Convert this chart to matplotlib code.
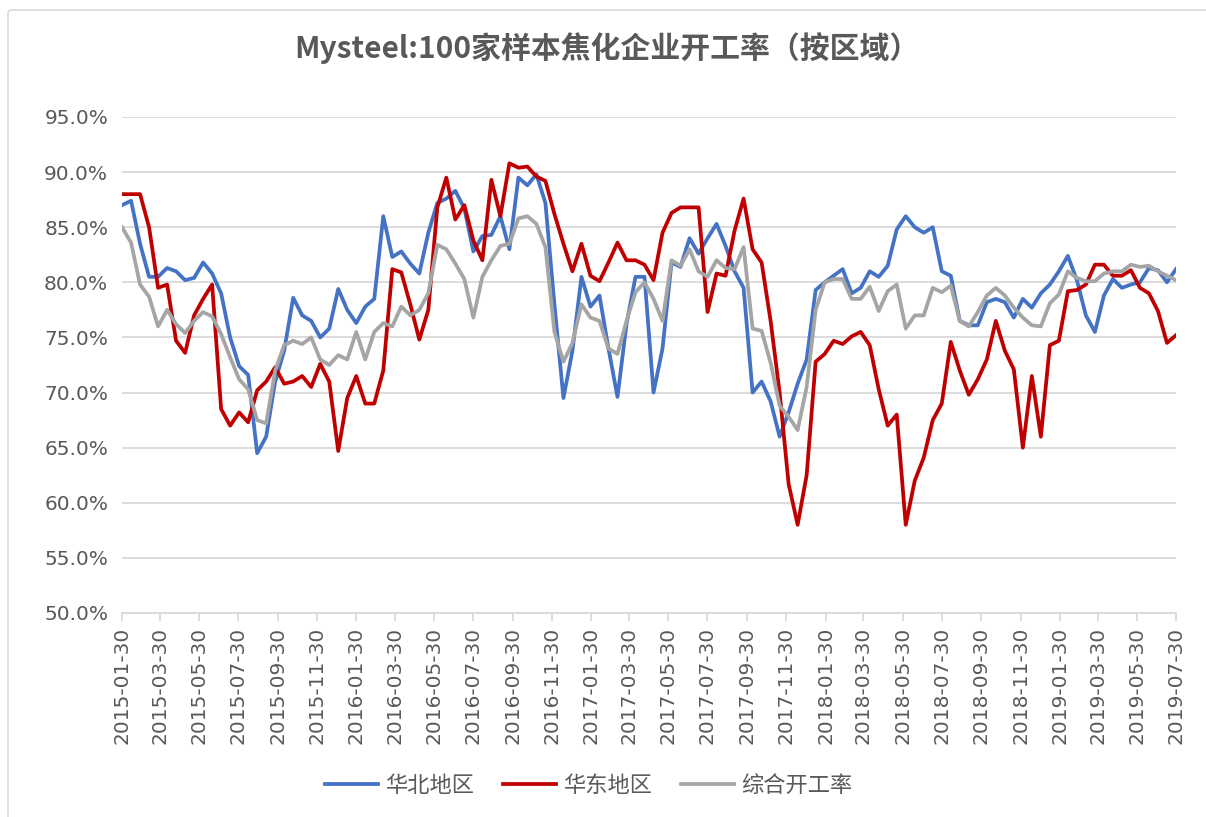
import matplotlib
matplotlib.use('Agg')
import matplotlib.pyplot as plt
import matplotlib.dates as mdates
from matplotlib.ticker import FuncFormatter, MultipleLocator
from matplotlib.patches import FancyBboxPatch
import pandas as pd

plt.rcParams['font.family'] = ['Noto Sans CJK SC', 'DejaVu Sans']

# biweekly samples, 2015-01-30 .. 2019-07-30 (values in %)
dates = pd.date_range('2015-01-30', '2019-07-30', periods=118)

huabei = [
    87.0, 87.4, 83.5, 80.5, 80.5, 81.3, 81.0, 80.2, 80.4, 81.8,
    80.8, 79.0, 75.0, 72.4, 71.6, 64.5, 66.0, 71.0, 73.8, 78.6,
    77.0, 76.5, 75.0, 75.8, 79.4, 77.5, 76.3, 77.8, 78.5, 86.0,
    82.3, 82.8, 81.7, 80.8, 84.5, 87.2, 87.6, 88.3, 86.7, 82.8,
    84.2, 84.3, 86.0, 83.0, 89.5, 88.8, 89.8, 87.2, 78.0, 69.5,
    73.8, 80.5, 77.8, 78.8, 74.0, 69.6, 76.2, 80.5, 80.5, 70.0,
    74.0, 81.8, 81.4, 84.0, 82.6, 84.0, 85.3, 83.3, 81.0, 79.5,
    70.0, 71.0, 69.2, 66.0, 68.2, 70.8, 73.0, 79.3, 80.0, 80.6,
    81.2, 79.0, 79.5, 81.0, 80.5, 81.5, 84.8, 86.0, 85.0, 84.5,
    85.0, 81.0, 80.6, 76.5, 76.1, 76.1, 78.2, 78.5, 78.2, 76.8,
    78.5, 77.7, 79.0, 79.8, 81.0, 82.4, 80.2, 77.0, 75.5, 78.8,
    80.3, 79.5, 79.8, 80.0, 81.3, 81.1, 80.0, 81.2,
]

huadong = [
    88.0, 88.0, 88.0, 85.0, 79.5, 79.8, 74.7, 73.6, 77.0, 78.5,
    79.8, 68.5, 67.0, 68.2, 67.3, 70.2, 71.0, 72.3, 70.8, 71.0,
    71.5, 70.5, 72.6, 71.0, 64.7, 69.5, 71.5, 69.0, 69.0, 72.0,
    81.2, 80.9, 78.0, 74.8, 77.5, 86.8, 89.5, 85.7, 87.0, 83.8,
    82.0, 89.3, 86.0, 90.8, 90.4, 90.5, 89.6, 89.2, 86.2, 83.5,
    81.0, 83.5, 80.6, 80.1, 81.8, 83.6, 82.0, 82.0, 81.6, 80.2,
    84.5, 86.3, 86.8, 86.8, 86.8, 77.3, 80.8, 80.6, 84.7, 87.6,
    83.0, 81.8, 76.5, 70.0, 61.7, 58.0, 62.5, 72.8, 73.5, 74.7,
    74.4, 75.1, 75.5, 74.3, 70.3, 67.0, 68.0, 58.0, 62.0, 64.1,
    67.5, 69.0, 74.6, 72.0, 69.8, 71.2, 73.0, 76.5, 73.8, 72.1,
    65.0, 71.5, 66.0, 74.3, 74.7, 79.2, 79.3, 79.8, 81.6, 81.6,
    80.6, 80.6, 81.1, 79.5, 79.0, 77.4, 74.5, 75.2,
]

zonghe = [
    85.0, 83.6, 79.8, 78.7, 76.0, 77.5, 76.2, 75.4, 76.5, 77.3,
    76.9, 75.3, 73.2, 71.2, 70.3, 67.5, 67.2, 72.0, 74.3, 74.7,
    74.4, 75.0, 73.0, 72.5, 73.4, 73.0, 75.5, 73.0, 75.5, 76.3,
    76.0, 77.8, 77.0, 77.5, 79.0, 83.4, 83.0, 81.7, 80.3, 76.8,
    80.5, 82.0, 83.3, 83.5, 85.8, 86.0, 85.3, 83.2, 75.5, 72.8,
    74.5, 78.0, 76.8, 76.5, 74.0, 73.5, 76.5, 79.1, 80.0, 78.5,
    76.5, 82.0, 81.5, 83.0, 81.0, 80.5, 82.0, 81.3, 81.2, 83.2,
    75.8, 75.6, 72.7, 68.8, 67.8, 66.6, 70.5, 77.5, 80.0, 80.3,
    80.3, 78.5, 78.5, 79.6, 77.4, 79.2, 79.8, 75.8, 77.0, 77.0,
    79.5, 79.1, 79.7, 76.5, 76.0, 77.3, 78.8, 79.5, 78.8, 77.7,
    76.8, 76.1, 76.0, 78.1, 78.9, 81.0, 80.4, 80.1, 80.1, 80.8,
    81.0, 81.0, 81.6, 81.4, 81.5, 81.0, 80.6, 80.2,
]

series = ['华北地区', '华东地区', '综合开工率']
colors = ['#4472C4', '#C00000', '#A5A5A5']
text_color = '#595959'
grid_color = '#D9D9D9'

fig = plt.figure(figsize=(12.06, 8.17), dpi=100)
ax = fig.add_axes([0.1012, 0.2497, 0.8739, 0.6071])

for name, vals, c in zip(series, [huabei, huadong, zonghe], colors):
    ax.plot(dates, vals, color=c, linewidth=2.7, label=name, solid_joinstyle='round')

ax.set_ylim(50, 95)
ax.set_xlim(pd.Timestamp('2015-01-30'), pd.Timestamp('2019-07-30'))
ax.yaxis.set_major_locator(MultipleLocator(5))
ax.yaxis.set_major_formatter(FuncFormatter(lambda v, p: '%.1f%%' % v))
ax.xaxis.set_major_locator(mdates.MonthLocator(bymonth=[1, 3, 5, 7, 9, 11], bymonthday=30))
ax.xaxis.set_major_formatter(mdates.DateFormatter('%Y-%m-%d'))

ax.grid(axis='y', color=grid_color, linewidth=1.3)
ax.set_axisbelow(True)
for s in ['top', 'right', 'left']:
    ax.spines[s].set_visible(False)
ax.spines['bottom'].set_color(grid_color)
ax.spines['bottom'].set_linewidth(1.3)

ax.tick_params(axis='y', length=0, pad=10, labelsize=14.5, labelcolor=text_color)
ax.tick_params(axis='x', direction='out', length=6, width=1.3, color=grid_color,
               pad=4, labelsize=14.5, labelcolor=text_color, labelrotation=90)
for lab in ax.get_xticklabels() + ax.get_yticklabels():
    lab.set_family('DejaVu Sans')

fig.text(0.503, 0.941, 'Mysteel:100家样本焦化企业开工率（按区域）', ha='center', va='center',
         fontsize=21.5, fontweight='bold', color=text_color)

fig.legend(loc='center', bbox_to_anchor=(0.488, 0.039), ncol=3, frameon=False,
           fontsize=16, handlelength=2.4, handletextpad=0.3, columnspacing=1.3,
           labelcolor=text_color)

# outer chart border
border = FancyBboxPatch((8 / 1206, -0.05), 1.2, 1.0 - 10 / 817 + 0.05,
                        boxstyle='round,pad=0,rounding_size=0.004',
                        transform=fig.transFigure, fill=False,
                        edgecolor=grid_color, linewidth=1.2)
fig.add_artist(border)

fig.savefig('out.png', dpi=100)
